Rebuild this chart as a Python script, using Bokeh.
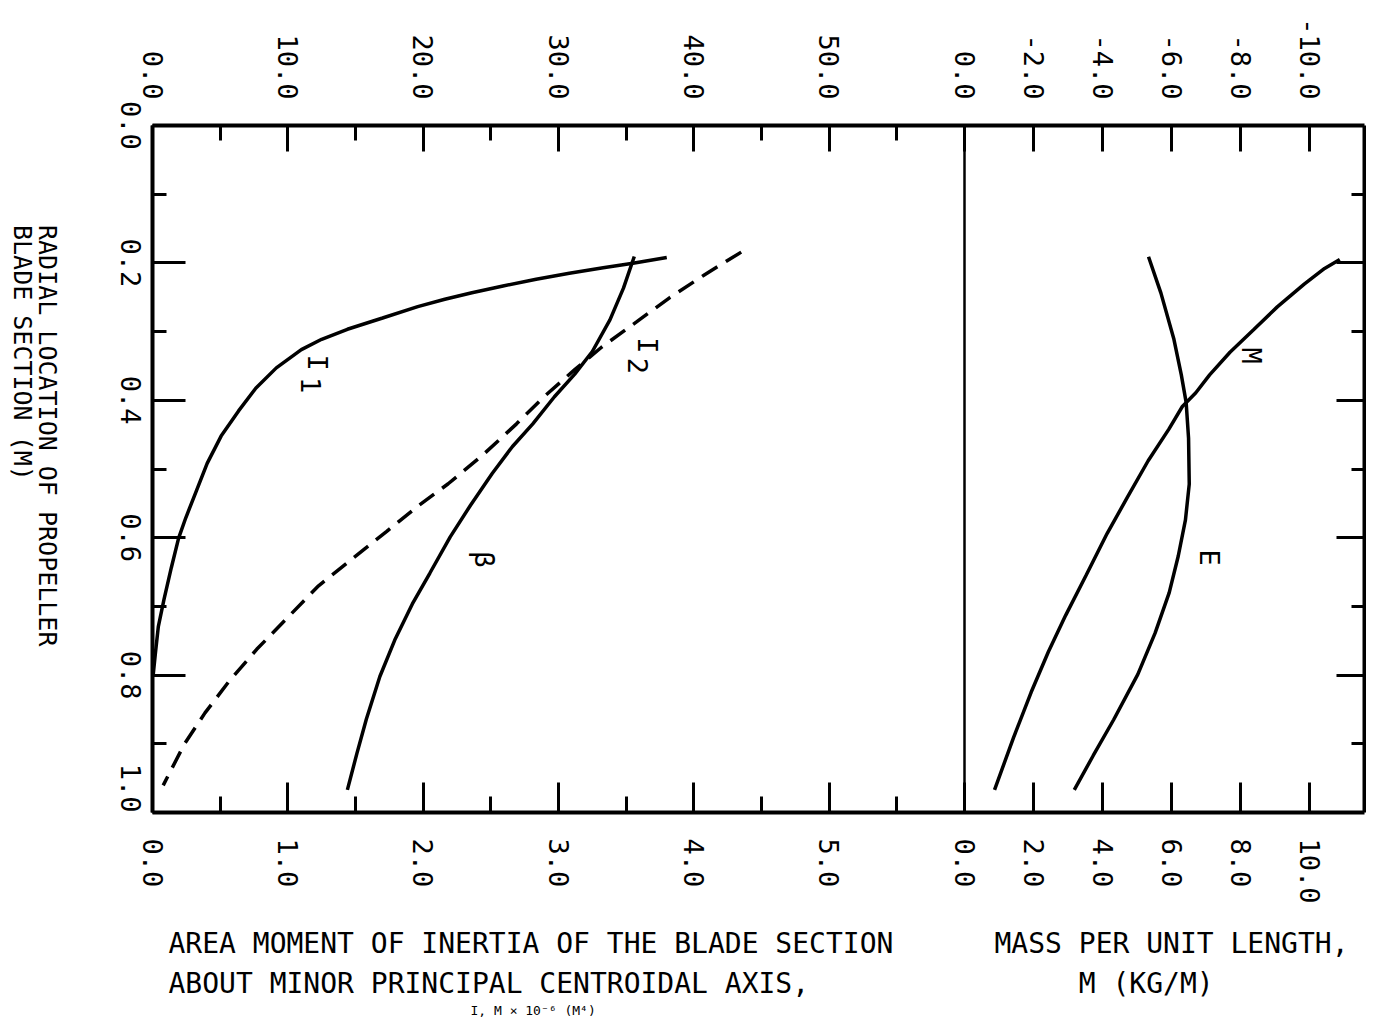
import math
from bokeh.plotting import figure
from bokeh.models import (Range1d, LinearAxis, FixedTicker, Label, Div,
                          CustomJSTickFormatter, Span, Title)
from bokeh.layouts import row
from bokeh.embed import file_html
from bokeh.resources import INLINE

# ---------------- data ----------------
# radial location of propeller blade section (m)
r_i1 = [0.192, 0.2006, 0.2072, 0.215, 0.2237, 0.2336, 0.2435, 0.253, 0.2636, 0.2802,
        0.2966, 0.3112, 0.3263, 0.3528, 0.3825, 0.4154, 0.4521, 0.4918, 0.5314, 0.571,
        0.6007, 0.6437, 0.6898, 0.7294, 0.769, 0.80]
i1 = [3.80, 3.55, 3.33, 3.08, 2.835, 2.59, 2.36, 2.16, 1.96, 1.70,
      1.44, 1.25, 1.10, 0.915, 0.763, 0.636, 0.507, 0.404, 0.325, 0.246,
      0.193, 0.139, 0.085, 0.043, 0.021, 0.005]

r_i2 = [0.1843, 0.2172, 0.2501, 0.2862, 0.3224, 0.3553, 0.3948, 0.4343, 0.4803, 0.5215,
        0.5544, 0.5908, 0.6304, 0.670, 0.7162, 0.7625, 0.8087, 0.855, 0.901, 0.9605]
i2 = [4.35, 4.08, 3.825, 3.574, 3.32, 3.12, 2.893, 2.69, 2.437, 2.185,
      1.958, 1.731, 1.478, 1.227, 0.999, 0.770, 0.567, 0.388, 0.234, 0.079]

r_beta = [0.1907, 0.2368, 0.283, 0.329, 0.3619, 0.3948, 0.4343, 0.4672, 0.5066, 0.5527,
          0.5988, 0.6514, 0.6964, 0.749, 0.802, 0.8643, 0.9143, 0.967]
beta = [35.6, 34.8, 33.8, 32.5, 31.2, 29.7, 28.1, 26.6, 25.1, 23.5,
        22.0, 20.5, 19.2, 17.9, 16.8, 15.8, 15.1, 14.4]

r_mass = [0.195, 0.208, 0.231, 0.264, 0.297, 0.330, 0.363, 0.389, 0.409, 0.442,
          0.488, 0.541, 0.594, 0.654, 0.713, 0.766, 0.825, 0.891, 0.967]
mass = [10.87, 10.43, 9.84, 9.06, 8.38, 7.69, 7.10, 6.70, 6.31, 5.92,
        5.32, 4.72, 4.13, 3.53, 2.93, 2.43, 1.93, 1.42, 0.87]

r_e = [0.191, 0.244, 0.310, 0.363, 0.403, 0.455, 0.522, 0.574, 0.627, 0.680,
       0.739, 0.799, 0.865, 0.917, 0.967]
e_vals = [-5.33, -5.69, -6.06, -6.28, -6.42, -6.49, -6.51, -6.40, -6.19, -5.93,
          -5.52, -5.02, -4.32, -3.73, -3.18]

# ticks / tick labels
r_ticks = [0.0, 0.2, 0.4, 0.6, 0.8, 1.0]
r_minor = [0.1, 0.3, 0.5, 0.7, 0.9]
i_ticks = [0, 1, 2, 3, 4, 5]
i_minor = [0.5, 1.5, 2.5, 3.5, 4.5, 5.5]
beta_ticks = [0, 10, 20, 30, 40, 50]
beta_minor = [5, 15, 25, 35, 45, 55]
m_ticks = [0, 2, 4, 6, 8, 10]
e_ticks = [0, -2, -4, -6, -8, -10]

title_left_1 = "RADIAL LOCATION OF PROPELLER"
title_left_2 = "BLADE SECTION (M)"
title_i_1 = "AREA MOMENT OF INERTIA OF THE BLADE SECTION"
title_i_2 = "ABOUT MINOR PRINCIPAL CENTROIDAL AXIS,"
title_i_3 = "I, M \u00d7 10\u207b\u2076 (M\u2074)"
title_m_1 = "MASS PER UNIT LENGTH,"
title_m_2 = "M (KG/M)"

# ---------------- geometry / styling ----------------
FONT = "DejaVu Sans Mono"
TICK_PX = 27
TICK_FS = f"{TICK_PX}px"
ROT = -math.pi / 2
BORDER_W = 4
CURVE_W = 3.5

W, H = 1366, 1019
SIDE_W = 100                           # strip holding the rotated radial title
LEFT, TOP = 152, 125                   # frame position on the page
FRAME_W, FRAME_H = 1212, 687
LEFT_PANEL_W = 812                     # width of the inertia / beta panel
DIV = 6.0                              # inertia value at the panel divider
I_END = DIV * FRAME_W / LEFT_PANEL_W   # inertia units across the whole frame
BETA_PER_I = 10.0                      # top scale of the left panel
M_PER_I = 3.92                         # mass units per inertia unit (right panel)

fig_w = W - SIDE_W
p = figure(width=fig_w, height=H, x_range=Range1d(0, I_END), y_range=Range1d(1.0, 0.0),
           output_backend="svg", toolbar_location=None,
           min_border_left=LEFT - SIDE_W, min_border_right=fig_w - (LEFT - SIDE_W) - FRAME_W,
           min_border_top=TOP, min_border_bottom=H - TOP - FRAME_H)
p.outline_line_color = None
p.xgrid.visible = False
p.ygrid.visible = False
p.background_fill_color = "white"
p.border_fill_color = "white"

p.extra_x_ranges = {
    "beta": Range1d(0, BETA_PER_I * I_END),
    "M": Range1d(-DIV * M_PER_I, (I_END - DIV) * M_PER_I),
    "E": Range1d(DIV * M_PER_I, -(I_END - DIV) * M_PER_I),
}


def style_axis(ax, tick_in, minor_in, standoff):
    ax.axis_line_width = BORDER_W
    ax.axis_line_color = "black"
    ax.major_tick_in = tick_in
    ax.major_tick_out = 0
    ax.minor_tick_in = minor_in
    ax.minor_tick_out = 0
    ax.major_tick_line_width = 3
    ax.minor_tick_line_width = 3
    ax.major_tick_line_color = "black"
    ax.minor_tick_line_color = "black"
    ax.major_label_standoff = standoff
    ax.major_label_text_font = FONT
    ax.major_label_text_font_size = TICK_FS
    ax.major_label_text_color = "black"
    ax.major_label_orientation = ROT


blank = CustomJSTickFormatter(code="return '';")
NB = "\u00a0"

# bottom axis: inertia (left panel) and mass per unit length (right panel)
ax_b = p.xaxis[0]
ax_b.ticker = FixedTicker(ticks=i_ticks + [DIV + m / M_PER_I for m in m_ticks],
                          minor_ticks=i_minor)
ax_b.formatter = CustomJSTickFormatter(
    args=dict(div=DIV, k=M_PER_I),
    code="return tick < div - 0.01 ? tick.toFixed(1) : ((tick - div) * k).toFixed(1);")
style_axis(ax_b, 30, 16, 26)

# the two bottom titles share the lines under the axis (monospaced, so spacing is exact)
line1 = title_i_1 + NB * 6 + title_m_1
line2 = title_i_2 + NB * 16 + title_m_2
line2 = line2 + NB * (len(line1) - len(line2))
ax_b.axis_label = line1 + "\n" + line2
ax_b.axis_label_text_font = FONT
ax_b.axis_label_text_font_size = "28px"
ax_b.axis_label_text_font_style = "normal"
ax_b.axis_label_text_color = "black"
ax_b.axis_label_text_line_height = 1.22
ax_b.axis_label_standoff = 20

# top axis: beta (left panel) and E (right panel)
ax_t = LinearAxis(x_range_name="beta",
                  ticker=FixedTicker(ticks=beta_ticks + [BETA_PER_I * (DIV - e / M_PER_I)
                                                         for e in e_ticks],
                                     minor_ticks=beta_minor))
ax_t.formatter = CustomJSTickFormatter(
    args=dict(div=BETA_PER_I * DIV, k=M_PER_I / BETA_PER_I),
    code="return tick < div - 0.1 ? tick.toFixed(1) : (-(tick - div) * k).toFixed(1);")
style_axis(ax_t, 26, 15, 26)
p.add_layout(ax_t, "above")

# left axis: tick marks
ax_l = p.yaxis[0]
ax_l.ticker = FixedTicker(ticks=r_ticks, minor_ticks=r_minor)
ax_l.formatter = blank
style_axis(ax_l, 33, 14, 0)

# left axis: tick labels centred on their ticks (rotated text is end-anchored)
SHIFT = 0.6 * TICK_PX * 1.5 / FRAME_H
ax_lab = LinearAxis(ticker=FixedTicker(ticks=[min(t + SHIFT, 1.0) for t in r_ticks],
                                       minor_ticks=[]),
                    formatter=CustomJSTickFormatter(args=dict(d=SHIFT),
                                                    code="return (tick - d).toFixed(1);"))
style_axis(ax_lab, 0, 0, 22)
ax_lab.axis_line_color = None
ax_lab.major_tick_line_color = None
p.add_layout(ax_lab, "left")

# right axis: tick marks only
ax_r = LinearAxis(ticker=FixedTicker(ticks=[0.2, 0.4, 0.6, 0.8], minor_ticks=r_minor),
                  formatter=blank)
style_axis(ax_r, 28, 13, 0)
p.add_layout(ax_r, "right")

# panel divider
p.add_layout(Span(location=DIV, dimension="height", line_color="black", line_width=2.5))

# ---------------- curves ----------------
p.line(i1, r_i1, line_width=CURVE_W, color="black")
p.line(i2, r_i2, line_width=CURVE_W, color="black", line_dash="18 10")
p.line(beta, r_beta, line_width=CURVE_W, color="black", x_range_name="beta")
p.line(mass, r_mass, line_width=CURVE_W, color="black", x_range_name="M")
p.line(e_vals, r_e, line_width=CURVE_W, color="black", x_range_name="E")

lab_kw = dict(angle=ROT, text_font=FONT, text_color="black", text_font_size="27px",
              text_align="center", text_baseline="middle")
p.add_layout(Label(x=1.22, y=0.345, text="I", **lab_kw))
p.add_layout(Label(x=1.17, y=0.378, text="1", **lab_kw))
p.add_layout(Label(x=3.66, y=0.320, text="I", **lab_kw))
p.add_layout(Label(x=3.59, y=0.350, text="2", **lab_kw))
p.add_layout(Label(x=24.5, y=0.632, x_range_name="beta", text="\u03b2", **lab_kw))
p.add_layout(Label(x=8.3, y=0.335, x_range_name="M", text="M", **lab_kw))
p.add_layout(Label(x=7.1, y=0.629, x_range_name="M", text="E", **lab_kw))

# third (partly printed) line of the inertia title
t3 = Title(text=title_i_3, align="left", offset=318, text_font=FONT,
           text_font_size="13px", text_font_style="normal", text_color="black",
           vertical_align="top", standoff=0)
p.add_layout(t3, "below")

# ---------------- rotated radial-axis title (reads top to bottom) ----------------
side_html = (
    '<div style="writing-mode: vertical-rl; width: 50px; height: 620px; '
    'margin-top: 225px; margin-left: 10px; white-space: nowrap; color: black; '
    "font-family: 'DejaVu Sans Mono', monospace; font-size: 25px; line-height: 25px;\">"
    + title_left_1 + "<br>" + title_left_2 + "</div>"
)
side = Div(text=side_html, width=SIDE_W, height=H, margin=(0, 0, 0, 0))

layout = row(side, p)
open("out.html", "w").write(file_html(layout, INLINE))
